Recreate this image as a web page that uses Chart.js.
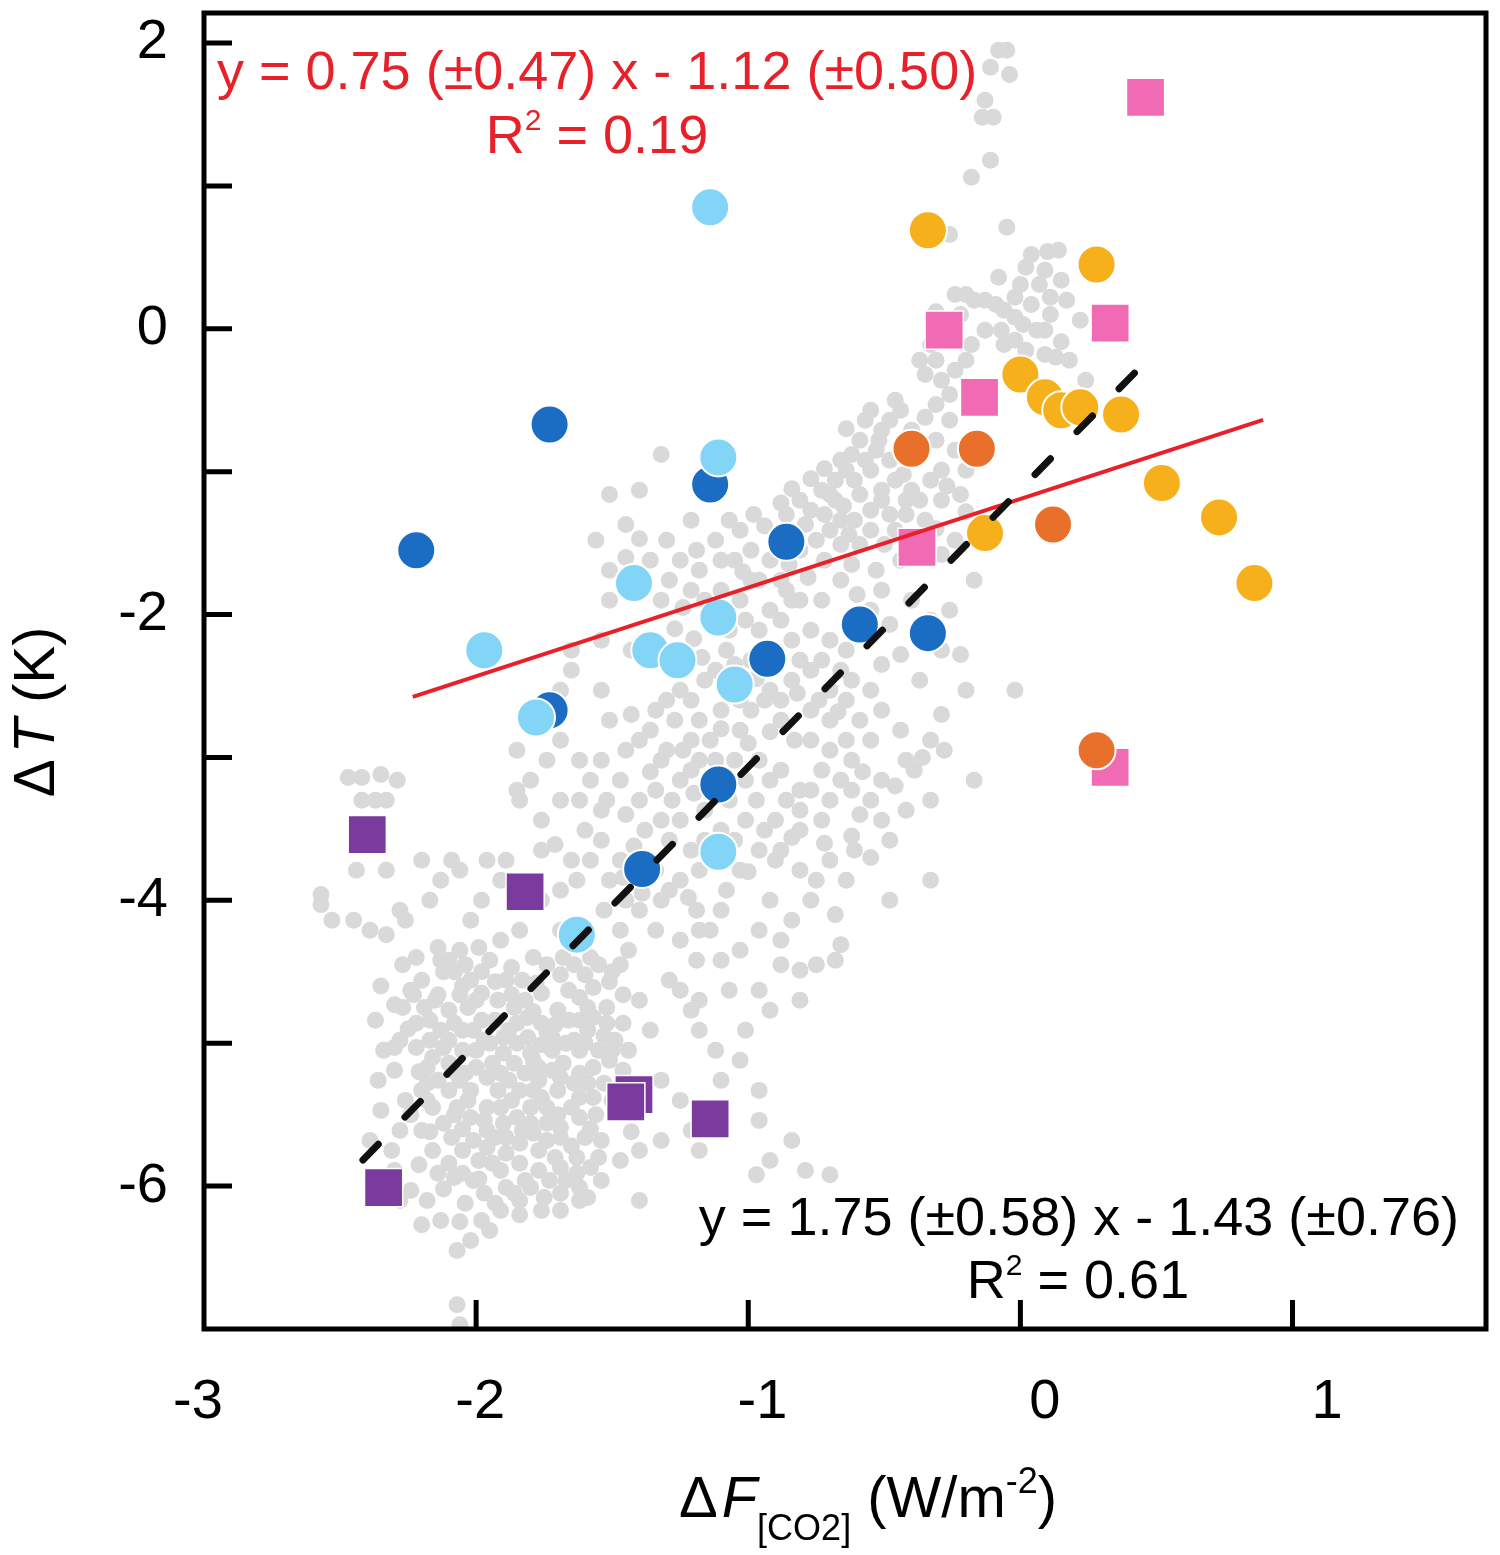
<!DOCTYPE html>
<html><head><meta charset="utf-8">
<script src="https://cdn.jsdelivr.net/npm/chart.js@4.4.0/dist/chart.umd.min.js"></script>
<style>html,body{margin:0;padding:0;background:#fff;}#wrap{width:1500px;height:1555px;}</style>
</head><body><div id="wrap"><canvas id="c" width="1500" height="1555"></canvas></div>
<script>
// ---------- data ----------
const xTickValues = [-2, -1, 0, 1];
const xTickLabels = ['-3', '-2', '-1', '0', '1'];
const yTickLabels = ['-6', '-4', '-2', '0', '2'];

const grayPoints = [
[-0.08,1.95],[-0.05,1.95],[-0.04,1.78],[-0.11,1.83],[-0.13,1.60],[-0.14,1.48],[-0.10,1.48],[-0.11,1.18],[-0.18,1.06],[-0.05,0.71],
[-0.26,0.66],[-0.08,0.36],[0.02,0.43],[0.04,0.52],[0.10,0.54],[0.14,0.55],[0.09,0.41],[0.00,0.31],[-0.24,0.24],[-0.20,0.24],
[-0.17,0.20],[-0.13,0.20],[-0.09,0.17],[-0.06,0.13],[-0.02,0.08],[0.01,0.03],[0.06,-0.01],[0.22,0.06],[0.11,0.22],[-0.22,0.10],
[-0.31,0.12],[-0.27,0.03],[-0.33,-0.11],[-0.37,-0.22],[-0.35,-0.32],[-0.29,-0.36],[-0.24,-0.29],[-0.18,-0.11],[-0.13,-0.01],[-0.07,-0.01],
[-0.06,-0.11],[-0.02,-0.08],[0.09,-0.01],[0.15,-0.09],[0.18,-0.22],[0.09,-0.18],[0.24,-0.36],[0.15,0.34],[0.07,0.31],[0.17,0.20],
[-0.02,0.22],[0.04,0.17],[0.11,0.10],[0.02,-0.15],[0.13,-0.20],[-0.20,-0.22],[-0.31,-0.22],
[-0.31,-0.53],[-0.26,-0.46],[-0.55,-0.57],[-0.44,-0.57],[-0.51,-0.71],[-0.59,-0.78],[-0.62,-0.88],[-0.64,-0.99],[-0.68,-1.06],[-0.73,-1.13],
[-0.68,-1.20],[-0.61,-1.06],[-0.55,-0.99],[-0.51,-1.13],[-0.46,-1.06],[-0.40,-1.13],[-0.37,-1.20],[-0.29,-0.99],[-0.24,-0.85],[-0.20,-0.99],
[-0.22,-1.16],[-0.35,-1.34],[-0.42,-1.30],[-0.48,-1.30],[-0.55,-1.27],[-0.61,-1.34],[-0.66,-1.34],[-0.72,-1.30],[-0.77,-1.27],[-0.81,-1.20],
[-0.75,-1.48],[-0.66,-1.51],[-0.59,-1.51],[-0.50,-1.51],[-0.44,-1.62],[-0.29,-1.58],[-0.24,-1.48],[-0.17,-1.76],[-0.26,-1.97],[-0.22,-2.28],
[-0.57,-0.64],[-0.48,-0.64],[-0.40,-0.71],[-0.44,-0.85],[-0.53,-0.85],[-0.66,-0.92],[-0.57,-0.92],[-0.48,-0.92],[-0.37,-0.88],[-0.31,-0.78],
[-0.26,-0.64],[-0.70,-1.16],[-0.59,-1.16],[-0.51,-1.20],[-0.42,-1.20],[-0.33,-1.06],[-0.29,-1.20],[-0.79,-1.37],[-0.70,-1.41],[-0.55,-1.41],
[-0.46,-1.41],[-0.37,-1.48],[-0.86,-1.30],[-0.90,-1.48],[-0.81,-1.55],[-0.72,-1.62],[-0.62,-1.65],[-0.53,-1.69],
[-0.64,-0.70],[-0.52,-0.78],[-0.42,-0.78],[-0.35,-0.62],[-0.46,-0.50],[-0.72,-0.98],[-0.77,-1.05],[-0.84,-1.12],[-0.88,-1.22],[-0.94,-1.38],
[-0.98,-1.30],[-0.65,-1.24],[-0.63,-1.44],[-0.43,-1.02],[-0.27,-1.10],[-0.20,-1.28],[-0.31,-1.40],[-0.85,-1.65],[-0.78,-1.74],[-0.66,-1.76],
[-0.60,-1.86],
[-0.20,-2.53],[-0.29,-2.70],[-0.02,-2.53],[-0.33,-2.88],[-0.28,-2.95],[-0.17,-3.16],[-0.42,-3.02],[-0.51,-3.16],[-0.55,-3.30],[-0.59,-3.40],
[-0.51,-3.44],[-0.48,-3.58],[-0.42,-3.37],[-0.39,-3.09],[-0.33,-3.30],[-0.61,-3.65],[-0.64,-3.86],[-0.48,-4.00],[-0.33,-3.86],[-0.68,-4.10],
[-0.66,-4.31],[-0.68,-4.42],[-0.75,-4.45],[-0.81,-4.49],[-0.88,-4.45],[-0.96,-4.63],[-0.92,-4.77],[-1.01,-4.91],[-1.03,-5.12],[-0.96,-5.33],
[-0.92,-5.82],[-0.97,-5.92],[-0.79,-5.89],[-0.70,-5.92],[-1.12,-5.47],[-1.10,-5.26],[-1.12,-5.05],[-1.18,-4.91],[-1.21,-4.77],[-1.18,-4.70],
[-1.25,-4.63],[-1.29,-4.56],[-1.19,-4.42],[-1.18,-4.21],[-1.10,-4.07],[-1.08,-3.93],[-1.03,-3.79],[-0.96,-3.65],[-0.88,-3.65],[-0.81,-3.79],
[-0.75,-3.86],[-0.81,-3.51],[-0.73,-3.44],[-0.70,-3.30],[-0.66,-3.16],[-0.62,-3.02],[-0.70,-2.95],[-0.77,-2.88],[-0.83,-2.88],[-0.88,-2.74],
[-0.94,-2.60],[-0.99,-2.67],[-1.03,-2.81],[-1.05,-3.02],[-0.96,-3.02],[-0.92,-3.16],[-0.97,-3.30],[-1.07,-3.30],[-1.01,-3.44],[-0.94,-3.51],
[-0.86,-3.30],[-0.81,-3.23],[-0.73,-3.09],[-0.77,-2.67],[-0.70,-2.53],[-0.62,-2.46],[-0.55,-2.53],[-0.51,-2.67],[-0.59,-2.74],[-0.64,-2.60],
[-0.77,-2.39],[-0.81,-2.32],[-0.84,-2.18],[-0.77,-2.11],[-0.70,-2.18],[-0.64,-2.25],[-0.73,-1.90],[-0.81,-1.90],[-0.88,-1.76],[-0.96,-1.76],
[-0.92,-1.62],[-0.99,-1.55],[-1.03,-1.41],[-1.07,-1.34],[-1.12,-1.48],[-1.10,-1.62],[-1.18,-1.69],[-1.21,-1.83],[-1.16,-1.90],[-1.03,-1.90],
[-1.01,-2.04],[-0.96,-2.11],[-0.92,-1.97],[-0.84,-1.90],[-1.08,-2.25],[-1.16,-2.46],[-1.21,-2.60],[-1.25,-2.53],[-1.30,-2.60],[-1.36,-2.81],
[-1.40,-2.88],[-1.45,-2.95],[-1.47,-3.16],[-1.40,-3.30],[-1.32,-3.44],[-1.25,-3.16],[-1.18,-3.02],[-1.14,-2.88],[-1.18,-2.74],[-1.21,-2.88],
[-1.32,-3.02],[-1.52,-3.30],[-1.54,-3.58],[-1.47,-3.72],[-1.51,-3.86],[-1.45,-4.00],[-1.40,-4.07],[-1.32,-4.00],[-1.25,-3.86],[-1.18,-3.79],
[-1.21,-3.65],[-1.29,-3.58],[-1.25,-3.44],[-1.10,-3.51],[-1.16,-3.37],
[-1.05,-1.62],[-0.99,-1.76],[-0.86,-1.83],[-1.10,-1.83],[-1.07,-2.11],[-0.88,-2.04],[-0.90,-2.25],[-0.99,-2.32],[-1.12,-2.39],[-0.84,-2.46],
[-0.88,-2.60],[-0.73,-2.32],[-0.66,-2.39],[-0.70,-2.74],[-0.64,-2.88],[-1.10,-2.67],[-1.03,-2.60],[-1.27,-2.74],[-1.34,-2.67],[-1.43,-2.70],
[-1.30,-2.95],[-1.21,-3.09],[-1.12,-3.02],[-1.01,-3.16],[-0.88,-3.09],[-0.77,-3.23],[-0.81,-3.37],[-0.90,-3.44],[-1.05,-3.58],[-1.16,-3.58],
[-1.34,-3.23],[-1.38,-3.51],[-1.45,-3.40],[-1.58,-3.16],[-1.62,-3.30],[-1.34,-3.79],[-1.29,-3.93],[-1.19,-4.07],[-1.14,-4.21],[-1.25,-4.28],
[-1.34,-4.21],[-1.47,-4.21],[-1.53,-4.07],[-1.58,-3.72],
[-1.27,-2.10],[-1.20,-2.17],[-1.17,-2.30],[-1.05,-2.35],[-0.97,-2.45],[-0.92,-2.53],[-0.82,-2.55],[-0.74,-2.60],[-0.67,-2.68],[-0.92,-2.82],
[-1.00,-2.90],[-1.10,-2.80],[-1.24,-2.95],[-1.36,-3.10],[-1.28,-3.30],[-1.20,-3.25],[-1.08,-3.15],[-0.84,-3.56],[-0.90,-3.72],[-1.00,-3.80],
[-1.13,-3.70],[-1.42,-3.62],[-1.46,-3.84],[-1.39,-3.95],[-1.22,-3.98],[-0.72,-3.60],[-0.62,-3.55],[-0.55,-3.70],[-0.58,-3.10],[-0.46,-3.20],
[-0.36,-3.00],
[-1.32,-0.88],[-1.40,-1.13],[-1.51,-1.16],[-1.45,-1.37],[-1.56,-1.48],[-1.51,-1.69],[-1.65,-2.25],[-1.54,-2.18],[-1.43,-2.25],[-1.65,-2.39],
[-1.69,-2.53],[-1.54,-2.53],[-1.51,-2.74],[-1.69,-2.88],[-1.62,-3.02],[-1.54,-3.02],[-1.74,-3.02],[-1.80,-3.16],[-1.84,-3.30],[-1.76,-3.44],
[-1.71,-3.61],[-1.65,-3.72],[-1.63,-3.86],[-1.69,-3.93],[-1.76,-4.00],[-1.69,-4.21],[-1.84,-4.21],[-1.91,-4.28],[-2.06,-4.35],[-2.13,-4.42],
[-2.02,-4.14],[-1.98,-4.00],[-1.91,-3.86],[-1.89,-3.72],[-1.96,-3.72],[-2.09,-3.72],[-2.13,-3.86],[-2.17,-4.00],[-2.06,-3.79],[-1.69,-3.30],
[-1.54,-3.37],[-1.60,-3.51],[-1.85,-3.23],[-1.76,-3.65],[-1.85,-2.95],
[-1.36,-1.62],[-1.29,-1.76],[-1.30,-1.48],[-1.21,-1.34],[-1.51,-1.90],
[-1.19,-1.55],[-1.25,-1.62],[-1.24,-1.95],[-1.32,-1.90],[-1.45,-1.60],[-1.40,-1.47],[-1.02,-1.70],
[-2.57,-3.96],[-2.57,-4.03],[-2.44,-3.79],[-2.33,-3.79],[-2.53,-4.14],[-2.45,-4.14],[-2.39,-4.21],[-2.28,-4.07],[-2.35,-3.12],[-2.29,-3.16],
[-2.33,-3.30],[-2.37,-3.30],[-2.42,-3.30],[-2.47,-3.14],[-2.42,-3.14],[-2.20,-3.72],[-2.26,-4.14],[-2.33,-4.24],
[-2.14,-4.33],[-1.99,-4.33],[-2.27,-4.45],[-2.20,-4.56],[-2.08,-4.50],[-1.98,-4.50],[-2.02,-4.56],[-1.93,-4.57],[-1.83,-4.56],[-1.74,-4.45],
[-1.64,-4.45],[-1.55,-4.45],[-1.47,-4.45],[-1.44,-4.35],[-2.14,-4.66],[-2.06,-4.66],[-1.98,-4.65],[-1.87,-4.66],[-1.76,-4.65],[-1.66,-4.63],
[-1.57,-4.61],[-2.27,-4.75],[-2.19,-4.75],[-2.10,-4.77],[-2.03,-4.75],[-1.86,-4.75],[-1.79,-4.78],[-1.70,-4.77],[-1.59,-4.75],[-1.52,-4.75],
[-2.17,-4.84],[-2.08,-4.86],[-1.98,-4.84],[-1.85,-4.86],[-1.76,-4.86],[-1.66,-4.84],[-1.57,-4.82],[-1.46,-4.86],[-2.17,-4.98],[-2.10,-4.98],
[-2.05,-4.91],[-1.90,-4.96],[-1.81,-4.96],[-1.72,-4.96],[-1.64,-4.98],[-1.59,-4.91],[-1.49,-4.98],[-2.16,-5.10],[-2.00,-5.05],[-1.90,-5.07],
[-1.80,-5.07],[-1.72,-5.05],[-1.62,-5.05],[-1.55,-5.05],[-1.44,-5.05],[-2.18,-5.17],[-2.00,-5.17],[-1.86,-5.14],[-1.77,-5.17],[-1.68,-5.14],
[-1.62,-5.21],[-1.51,-5.12],[-2.14,-5.26],[-2.06,-5.26],[-1.96,-5.24],[-1.88,-5.26],[-1.77,-5.26],[-1.69,-5.24],[-1.59,-5.28],[-2.10,-5.33],
[-1.84,-5.33],[-1.62,-5.38],[-1.57,-5.38],[-2.16,-5.45],[-2.07,-5.45],[-1.96,-5.45],[-1.80,-5.45],[-2.08,-5.50],[-2.02,-5.52],[-1.90,-5.56],
[-1.80,-5.56],[-1.74,-5.56],[-1.69,-5.59],[-1.62,-5.52],[-1.96,-5.61],[-2.01,-5.68],[-1.79,-5.63],[-1.69,-5.66],[-1.60,-5.66],[-1.54,-5.68],
[-1.43,-5.62],[-2.05,-5.75],[-1.96,-5.73],[-1.89,-5.77],[-1.77,-5.75],[-1.71,-5.80],[-1.63,-5.80],[-1.55,-5.80],[-2.10,-5.84],[-1.94,-5.84],
[-1.84,-5.84],[-1.77,-5.89],[-1.69,-5.87],[-2.14,-5.91],[-2.05,-5.91],[-2.01,-5.96],[-1.89,-6.01],[-1.73,-5.96],[-1.86,-6.05],[-1.69,-6.05],
[-2.12,-4.50],[-2.04,-4.45],[-1.95,-4.42],[-1.87,-4.47],[-1.79,-4.40],[-1.69,-4.52],[-1.60,-4.52],[-1.51,-4.57],[-2.23,-4.66],[-1.92,-4.70],
[-1.82,-4.70],[-1.62,-4.68],[-1.46,-4.66],[-2.22,-4.86],[-2.13,-4.91],[-2.01,-4.91],[-1.93,-4.84],[-1.81,-4.82],[-1.71,-4.87],[-1.62,-4.84],
[-1.52,-4.86],[-2.22,-5.03],[-2.05,-5.05],[-1.95,-5.00],[-1.85,-5.00],[-1.76,-5.01],[-1.67,-5.00],[-1.50,-5.05],[-2.10,-5.14],[-2.04,-5.21],
[-1.94,-5.14],[-1.82,-5.21],[-1.72,-5.19],[-1.57,-5.17],[-1.46,-5.19],[-2.20,-5.33],[-2.02,-5.33],[-1.92,-5.33],[-1.79,-5.33],[-1.70,-5.33],
[-1.65,-5.45],[-1.91,-5.45],[-2.12,-5.56],[-1.97,-5.54],[-1.85,-5.52],[-1.74,-5.45],[-2.09,-5.66],[-1.89,-5.66],[-1.84,-5.70],[-1.65,-5.72],
[-2.16,-5.75],[-1.99,-5.82],[-1.91,-5.89],[-1.63,-5.91],[-1.58,-5.87],[-1.97,-6.05],[-1.80,-6.01],[-1.75,-6.08],[-1.62,-6.01],[-2.18,-6.10],
[-2.04,-6.12],[-1.95,-6.31],[-2.36,-5.26],[-2.34,-5.05],[-2.37,-4.84],[-2.35,-5.47],[-2.39,-5.68],
[-2.25,-4.90],[-2.15,-4.70],[-2.00,-4.70],[-1.89,-4.56],[-1.78,-4.58],[-1.68,-4.40],[-1.58,-4.40],[-1.50,-4.50],[-2.05,-4.60],[-2.12,-5.03],
[-1.97,-4.98],[-1.88,-4.91],[-1.74,-4.92],[-1.60,-5.00],[-1.53,-4.95],[-2.21,-5.20],[-2.08,-5.20],[-1.91,-5.21],[-1.79,-5.12],[-1.64,-5.28],
[-1.53,-5.28],[-1.50,-5.40],[-2.18,-5.40],[-2.03,-5.40],[-1.87,-5.40],[-1.76,-5.38],[-1.70,-5.50],[-1.56,-5.50],[-2.17,-5.62],[-2.05,-5.60],
[-1.93,-5.66],[-1.83,-5.61],[-1.74,-5.68],[-1.58,-5.60],[-2.21,-5.85],[-2.08,-5.94],[-1.99,-5.95],[-1.82,-5.96],[-1.67,-5.96],[-1.59,-6.08],
[-2.12,-6.02],[-1.93,-6.12],[-1.84,-6.20],[-2.06,-6.25],[-2.18,-5.28],[-2.24,-5.50],[-2.30,-5.03],[-2.35,-4.60],[-2.22,-4.40],[-2.10,-4.42],
[-1.40,-4.70],[-1.36,-4.91],[-1.32,-5.26],[-1.25,-5.40],[-1.21,-5.61],[-1.18,-5.75],[-1.32,-5.68],[-1.40,-5.75],[-1.47,-5.82],[-1.54,-5.96],
[-1.62,-6.10],[-1.69,-6.17],[-1.76,-6.17],[-1.84,-6.10],[-1.91,-6.17],[-1.98,-6.24],[-2.02,-6.38],[-2.07,-6.45],[-2.13,-6.24],[-2.20,-6.27],
[-2.28,-6.10],[-2.24,-6.03],[-2.30,-5.89],[-2.31,-5.75],[-2.28,-5.61],[-2.26,-5.40],[-2.30,-5.19],[-2.28,-4.98],[-2.30,-4.73],[-2.24,-4.63],
[-2.20,-5.61],[-1.40,-6.10],[-2.07,-6.83],[-2.06,-6.97],[-0.96,-5.54],[-0.84,-5.68],
[-0.51,-1.83],[-0.55,-1.97],[-0.48,-2.07],[-0.44,-2.28],[-0.51,-2.35],[-0.40,-1.90],[-0.33,-2.04],[-0.37,-2.46],[-0.29,-2.25],[-0.44,-2.81],
[-0.55,-2.88],[-0.62,-3.23],[-0.70,-3.72],[-0.77,-4.00],[-0.84,-4.14],[-0.92,-4.00],[-0.96,-4.21],[-1.03,-4.35],[-0.88,-4.28],[-1.10,-4.42],
[-1.07,-4.63],[-0.81,-4.70]
];

const lightBluePoints = [[-1.14,0.85],[-1.11,-0.90],[-1.42,-1.78],[-1.11,-2.02],[-1.97,-2.25],[-1.36,-2.25],[-1.26,-2.32],[-1.05,-2.49],[-1.78,-2.72],[-1.11,-3.66],[-1.63,-4.24]];
const darkBluePoints  = [[-1.73,-0.67],[-2.22,-1.55],[-1.14,-1.09],[-0.86,-1.49],[-0.93,-2.31],[-0.59,-2.07],[-0.34,-2.13],[-1.73,-2.67],[-1.11,-3.19],[-1.39,-3.78]];
const darkOrangePoints = [[-0.40,-0.84],[-0.16,-0.84],[0.12,-1.37],[0.28,-2.95]];
const yellowPoints = [[-0.34,0.69],[0.28,0.45],[0.00,-0.32],[0.09,-0.48],[0.15,-0.57],[0.22,-0.55],[0.37,-0.60],[0.52,-1.08],[-0.13,-1.43],[0.73,-1.32],[0.86,-1.78]];
const pinkSquares = [[0.46,1.62],[-0.28,-0.01],[0.33,0.04],[-0.15,-0.48],[-0.38,-1.53],[0.33,-3.07]];
const purpleSquares = [[-2.40,-3.54],[-1.82,-3.94],[-1.42,-5.36],[-1.45,-5.41],[-1.14,-5.53],[-2.34,-6.01]];

const redFitLine = [[-2.233,-2.576],[0.892,-0.637]];
const blackFitLine = [[-2.416,-5.817],[0.496,-0.161]];

const redEquation = 'y = 0.75 (±0.47) x - 1.12 (±0.50)';
const redR2 = ['R', '2', ' = 0.19'];
const blackEquation = 'y = 1.75 (±0.58) x - 1.43 (±0.76)';
const blackR2 = ['R', '2', ' = 0.61'];

// ---------- chart ----------
const FONT = '"Liberation Sans", Arial, Helvetica, sans-serif';
const toXY = arr => arr.map(p => ({x: p[0], y: p[1]}));

function scatterSet(label, pts, color, style, radius, bw, order) {
  return {label, data: toXY(pts), backgroundColor: color, borderColor: '#ffffff', order,
    borderWidth: bw, pointRadius: radius, pointHoverRadius: radius, pointStyle: style};
}

const overlay = {
  id: 'overlay',
  afterDatasetsDraw(chart) {
    const {ctx, chartArea: a, scales} = chart;
    const xs = scales.x, ys = scales.y;
    ctx.save();
    ctx.strokeStyle = '#000'; ctx.lineWidth = 5;
    ctx.lineCap = 'butt';
    ctx.strokeRect(a.left, a.top, a.right - a.left, a.bottom - a.top);
    ctx.beginPath();
    ys.ticks.forEach(t => {
      const py = ys.getPixelForValue(t.value);
      if (py > a.top + 3 && py < a.bottom - 3) { ctx.moveTo(a.left, py); ctx.lineTo(a.left + 28, py); }
    });
    xTickValues.forEach(v => {
      const px = xs.getPixelForValue(v);
      ctx.moveTo(px, a.bottom); ctx.lineTo(px, a.bottom - 29);
    });
    ctx.stroke();

    // annotations
    ctx.textBaseline = 'alphabetic';
    ctx.fillStyle = '#e8202a';
    ctx.font = '54px ' + FONT;
    ctx.textAlign = 'left';
    ctx.fillText(redEquation, 217, 89);
    drawR2(ctx, redR2, 597, 153, '#e8202a');
    ctx.fillStyle = '#000';
    ctx.textAlign = 'right';
    ctx.font = '54px ' + FONT;
    ctx.fillText(blackEquation, 1459, 1235);
    drawR2(ctx, blackR2, 1078, 1298, '#000');

    // x title
    drawRuns(ctx, [
      {t: 'Δ', size: 58}, {t: 'F', size: 58, italic: true, gapBefore: 4},
      {t: '[CO2]', size: 36, dy: 23}, {t: ' (W/m', size: 58},
      {t: '-2', size: 36, dy: -24}, {t: ')', size: 58}
    ], 868, 1517, '#000', 'center');

    // y title
    ctx.save();
    ctx.translate(54, 712);
    ctx.rotate(-Math.PI / 2);
    drawRuns(ctx, [{t: 'Δ', size: 57}, {t: 'T', size: 57, italic: true, gapBefore: 6}, {t: ' (K)', size: 57}], 0, 0, '#000', 'center');
    ctx.restore();
    ctx.restore();
  }
};

function drawR2(ctx, parts, cx, base, color) {
  drawRuns(ctx, [{t: parts[0], size: 54}, {t: parts[1], size: 30, dy: -23}, {t: parts[2], size: 54}], cx, base, color, 'center');
}

function drawRuns(ctx, runs, x, base, color, align) {
  let total = 0;
  const widths = runs.map(r => {
    ctx.font = (r.italic ? 'italic ' : '') + r.size + 'px ' + FONT;
    const w = ctx.measureText(r.t).width + (r.gapBefore || 0);
    total += w; return w;
  });
  let cur = align === 'center' ? x - total / 2 : x;
  ctx.fillStyle = color; ctx.textAlign = 'left'; ctx.textBaseline = 'alphabetic';
  runs.forEach((r, i) => {
    ctx.font = (r.italic ? 'italic ' : '') + r.size + 'px ' + FONT;
    ctx.fillText(r.t, cur + (r.gapBefore || 0), base + (r.dy || 0));
    cur += widths[i];
  });
}

new Chart(document.getElementById('c'), {
  type: 'scatter',
  data: {
    datasets: [
      scatterSet('gray', grayPoints, '#d9d9d9', 'circle', 8.5, 0, 10),
      scatterSet('purple', purpleSquares, '#7a3a9e', 'rect', 27, 1.5, 9),
      scatterSet('pink', pinkSquares, '#f06bb4', 'rect', 27, 1.5, 8),
      scatterSet('darkBlue', darkBluePoints, '#1a6dc3', 'circle', 19, 2, 7),
      scatterSet('lightBlue', lightBluePoints, '#82d5f6', 'circle', 19, 2, 6),
      scatterSet('yellow', yellowPoints, '#f6b01b', 'circle', 19, 2, 5),
      scatterSet('darkOrange', darkOrangePoints, '#e8702b', 'circle', 19, 2, 4),
      {label: 'redFit', data: toXY(redFitLine), showLine: true, borderColor: '#e8202a', borderWidth: 4, order: 2,
       pointRadius: 0, backgroundColor: '#e8202a', clip: false},
      {label: 'blackFit', data: toXY(blackFitLine), showLine: true, borderColor: '#111111', borderWidth: 7, order: 1,
       borderDash: [22, 38], borderCapStyle: 'round', pointRadius: 0, backgroundColor: '#111', clip: false}
    ]
  },
  options: {
    responsive: false, animation: false, devicePixelRatio: 1,
    layout: {autoPadding: false, padding: {top: 13, right: 14, left: 0, bottom: 0}},
    plugins: {legend: {display: false}, tooltip: {enabled: false}},
    scales: {
      x: {type: 'linear', min: -3, max: 1.711, display: false},
      x2: {type: 'linear', position: 'bottom', min: -3, max: 1.542,
        grid: {display: false, drawTicks: false}, border: {display: false},
        ticks: {stepSize: 1, includeBounds: false, labelOffset: -6, padding: 40, maxRotation: 0, autoSkip: false,
          color: '#000', font: {family: FONT, size: 56},
          callback: v => { const s = String(Math.round(v)); return xTickLabels.includes(s) ? s : ''; }},
        afterFit: s => { s.height = 226; s.paddingLeft = 0; s.paddingRight = 0; }
      },
      y: {type: 'linear', position: 'left', min: -7, max: 2.21,
        grid: {display: false, drawTicks: false}, border: {display: false},
        ticks: {stepSize: 1, includeBounds: false, padding: 36, color: '#000', font: {family: FONT, size: 56},
          callback: v => { const s = String(Math.round(v)); return yTickLabels.includes(s) ? s : ''; }},
        afterFit: s => { s.width = 204; s.paddingTop = 0; s.paddingBottom = 0; }
      }
    }
  },
  plugins: [overlay]
});
</script></body></html>
